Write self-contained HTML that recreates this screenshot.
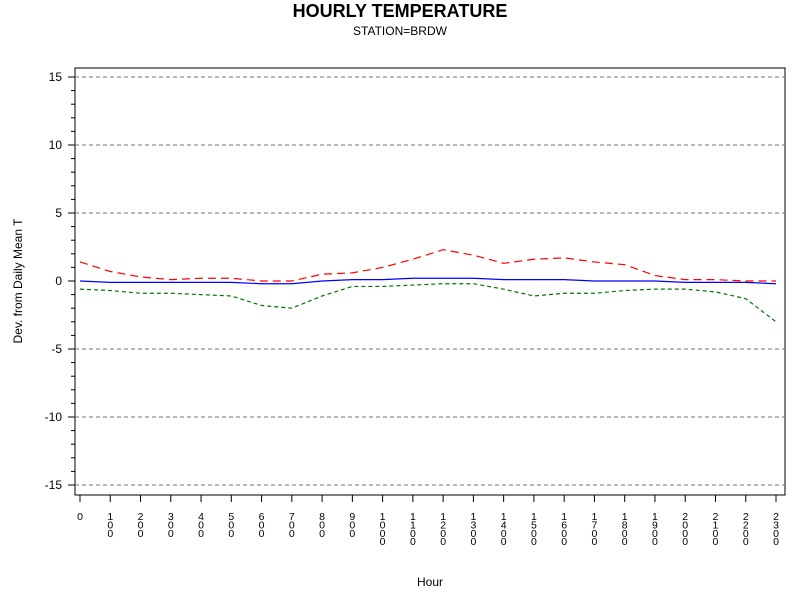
<!DOCTYPE html>
<html><head><meta charset="utf-8"><style>
body{margin:0;background:#fff;font-family:"Liberation Sans",sans-serif}
</style></head><body>
<svg width="800" height="600" xmlns="http://www.w3.org/2000/svg" font-family="Liberation Sans, sans-serif">
<text x="400" y="17" text-anchor="middle" font-size="18" font-weight="bold">HOURLY TEMPERATURE</text>
<text x="400" y="35" text-anchor="middle" font-size="12">STATION=BRDW</text>
<rect x="75" y="68" width="710" height="427" fill="none" stroke="#000"/>
<g id="grid"></g><g id="yax"></g><g id="xax"></g><g id="series"></g>
<text x="22" y="281" transform="rotate(-90 22 281)" text-anchor="middle" font-size="12">Dev. from Daily Mean T</text>
<text x="430" y="586" text-anchor="middle" font-size="12">Hour</text>
</svg>
<script>
const hours=[0,1,2,3,4,5,6,7,8,9,10,11,12,13,14,15,16,17,18,19,20,21,22,23];
const hourLabels=["0","100","200","300","400","500","600","700","800","900","1000","1100","1200","1300","1400","1500","1600","1700","1800","1900","2000","2100","2200","2300"];
const yTicks=[15,10,5,0,-5,-10,-15];
const upper=[1.4,0.7,0.3,0.1,0.2,0.2,0.0,0.0,0.5,0.6,1.0,1.6,2.3,1.9,1.3,1.6,1.7,1.4,1.2,0.4,0.1,0.1,0.0,0.0];
const mean=[0.0,-0.1,-0.1,-0.1,-0.1,-0.1,-0.2,-0.2,0.0,0.1,0.1,0.2,0.2,0.2,0.1,0.1,0.1,0.0,0.0,0.0,-0.1,-0.1,-0.1,-0.2];
const lower=[-0.6,-0.7,-0.9,-0.9,-1.0,-1.1,-1.8,-2.0,-1.1,-0.4,-0.4,-0.3,-0.2,-0.2,-0.6,-1.1,-0.9,-0.9,-0.7,-0.6,-0.6,-0.8,-1.3,-3.0];
const NS="http://www.w3.org/2000/svg";
const X=h=>80+h*(776-80)/23;
const Y=v=>281-v*13.6;
function mk(t,a,p){const e=document.createElementNS(NS,t);for(const k in a)e.setAttribute(k,a[k]);p.appendChild(e);return e;}
const grid=document.getElementById('grid'),yax=document.getElementById('yax'),xax=document.getElementById('xax'),ser=document.getElementById('series');
yTicks.forEach(v=>{
 if(v!==0){const g=mk('line',{x1:75,x2:785,y1:Y(v),y2:Y(v),stroke:'#777','stroke-dasharray':'4,3'},grid);
 
 }
 const t=mk('line',{x1:68,x2:75,y1:Y(v),y2:Y(v),stroke:'#000'},yax);
 
 
 const l=mk('text',{x:62,y:Y(v)+4,'text-anchor':'end','font-size':12},yax);l.textContent=v;
 
 
});
for(let v=-15;v<=15;v++){if(v%5){const m=mk('line',{x1:71,x2:75,y1:Y(v),y2:Y(v),stroke:'#000'},yax);
 
 }}
hours.forEach((h,i)=>{
 const t=mk('line',{x1:X(h),x2:X(h),y1:495,y2:502,stroke:'#000'},xax);
 
 
 const txt=mk('text',{x:X(h),'text-anchor':'middle','font-size':10.5},xax);
 
 
 hourLabels[i].split('').forEach((c,j)=>{const s=mk('tspan',{x:X(h),y:520+j*8.4},txt);s.textContent=c;});
});
function line(d,color,dash,name){
 const p=mk('polyline',{points:d.map((v,i)=>X(hours[i])+','+Y(v)).join(' '),fill:'none',stroke:color,'stroke-width':1.2,'stroke-dasharray':dash},ser);
 
 
}
line(upper,'#f00','8,5','upper-line');
line(lower,'#070','4,3','lower-line');
line(mean,'#00f','none','mean-line');
</script>
</body></html>
